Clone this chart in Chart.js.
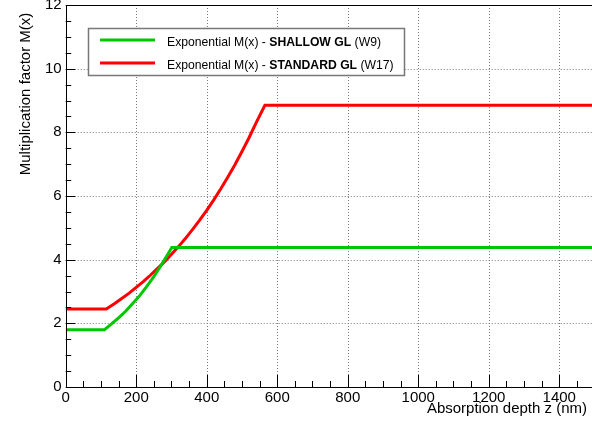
<!DOCTYPE html>
<html>
<head>
<meta charset="utf-8">
<script src="https://cdn.jsdelivr.net/npm/chart.js@4/dist/chart.umd.min.js"></script>
<style>
  html, body { margin: 0; padding: 0; background: #fff; overflow: hidden; }
  #wrap { width: 597px; height: 421px; }
</style>
</head>
<body>
<div id="wrap"><canvas id="c" width="597" height="421"></canvas></div>
<script>
// ---- data ----
const shallowX = [0, 110, 130, 150, 170, 190, 210, 230, 250, 270, 290, 301, 1500];
const shallowM = [1.80, 1.80, 1.98, 2.17, 2.38, 2.62, 2.87, 3.16, 3.47, 3.81, 4.18, 4.38, 4.38];

const standardX = [0, 115, 140, 160, 180, 200, 220, 240, 260, 280, 300, 320, 340, 360, 380,
                   400, 420, 440, 460, 480, 500, 520, 540, 565, 1500];
const standardM = [2.45, 2.45, 2.63, 2.79, 2.95, 3.13, 3.31, 3.51, 3.72, 3.93, 4.17, 4.41, 4.67, 4.95, 5.24,
                   5.55, 5.88, 6.23, 6.60, 6.98, 7.40, 7.83, 8.30, 8.85, 8.85];

const legendPrefix = 'Exponential M(x) - ';
const seriesNames = ['SHALLOW GL', 'STANDARD GL'];
const seriesTags = ['(W9)', '(W17)'];
const seriesColors = ['#00c800', '#ff0000'];

const xAxisTitle = 'Absorption depth z (nm)';
const yAxisTitle = 'Multiplication factor M(x)';

const xRange = [0, 1500];
const yRange = [0, 12];
const xMajorStep = 200, xMinorStep = 50;
const yMajorStep = 2, yMinorStep = 0.5;

function toPoints(xs, ys) { return xs.map((x, i) => ({ x: x, y: ys[i] })); }

const FONT = '"Liberation Sans", Arial, Helvetica, sans-serif';

const gridPlugin = {
  id: 'dottedGrid',
  beforeDatasetsDraw(chart) {
    const ctx = chart.ctx;
    const a = chart.chartArea;
    const xs = chart.scales.x, ys = chart.scales.y;
    ctx.save();
    ctx.strokeStyle = '#7a7a7a';
    ctx.lineWidth = 1;
    ctx.setLineDash([1, 2]);
    ctx.beginPath();
    xs.ticks.forEach(t => {
      if (t.value <= xRange[0] || t.value >= xRange[1]) return;
      const px = Math.round(xs.getPixelForValue(t.value)) + 0.5;
      ctx.moveTo(px, a.top);
      ctx.lineTo(px, a.bottom);
    });
    ys.ticks.forEach(t => {
      if (t.value <= yRange[0] || t.value >= yRange[1]) return;
      const py = Math.round(ys.getPixelForValue(t.value)) + 0.5;
      ctx.moveTo(a.left, py);
      ctx.lineTo(a.right, py);
    });
    ctx.stroke();
    ctx.restore();
  }
};

const decorPlugin = {
  id: 'decor',
  afterDatasetsDraw(chart) {
    const ctx = chart.ctx;
    const a = chart.chartArea;
    const xs = chart.scales.x, ys = chart.scales.y;
    ctx.save();
    ctx.setLineDash([]);
    ctx.strokeStyle = '#000';
    ctx.lineWidth = 1;
    // frame
    ctx.beginPath();
    ctx.rect(Math.round(a.left) + 0.5, Math.round(a.top) + 0.5,
             Math.round(a.right - a.left), Math.round(a.bottom - a.top));
    ctx.stroke();
    // inward ticks x
    ctx.beginPath();
    for (let v = xRange[0]; v <= xRange[1] + 1e-9; v += xMinorStep) {
      const px = Math.round(xs.getPixelForValue(v)) + 0.5;
      const major = Math.abs(v / xMajorStep - Math.round(v / xMajorStep)) < 1e-9;
      const len = major ? 12 : 6;
      ctx.moveTo(px, a.bottom);
      ctx.lineTo(px, a.bottom - len);
    }
    // inward ticks y
    for (let v = yRange[0]; v <= yRange[1] + 1e-9; v += yMinorStep) {
      const py = Math.round(ys.getPixelForValue(v)) + 0.5;
      const major = Math.abs(v / yMajorStep - Math.round(v / yMajorStep)) < 1e-9;
      const len = major ? 9.5 : 5.5;
      ctx.moveTo(a.left, py);
      ctx.lineTo(a.left + len, py);
    }
    ctx.stroke();

    // axis titles
    ctx.fillStyle = '#000';
    ctx.font = '15px ' + FONT;
    ctx.textAlign = 'right';
    ctx.textBaseline = 'alphabetic';
    ctx.fillText(xAxisTitle, 587, 413);
    ctx.save();
    ctx.translate(29.5, 12.7);
    ctx.rotate(-Math.PI / 2);
    ctx.textAlign = 'right';
    ctx.fillText(yAxisTitle, 0, 0);
    ctx.restore();

    // legend
    const bx = 88, by = 28, bw = 316, bh = 47;
    ctx.fillStyle = '#fff';
    ctx.fillRect(bx, by, bw, bh);
    ctx.strokeStyle = '#777';
    ctx.lineWidth = 1.5;
    ctx.strokeRect(bx + 0.5, by + 0.5, bw, bh);
    const rowLineY = [40, 63];
    const rowTextY = [46, 68.5];
    chart.data.datasets.forEach((ds, i) => {
      ctx.strokeStyle = ds.borderColor;
      ctx.lineWidth = 3;
      ctx.beginPath();
      ctx.moveTo(100, rowLineY[i]);
      ctx.lineTo(155, rowLineY[i]);
      ctx.stroke();
      ctx.fillStyle = '#000';
      ctx.textAlign = 'left';
      let tx = 167;
      ctx.font = '12.2px ' + FONT;
      ctx.fillText(legendPrefix, tx, rowTextY[i]);
      tx += ctx.measureText(legendPrefix).width;
      ctx.font = 'bold 12.2px ' + FONT;
      ctx.fillText(seriesNames[i], tx, rowTextY[i]);
      tx += ctx.measureText(seriesNames[i]).width;
      ctx.font = '12.2px ' + FONT;
      ctx.fillText(' ' + seriesTags[i], tx, rowTextY[i]);
    });
    ctx.restore();
  }
};

new Chart(document.getElementById('c'), {
  type: 'line',
  data: {
    datasets: [
      {
        label: legendPrefix + seriesNames[0] + ' ' + seriesTags[0],
        data: toPoints(shallowX, shallowM),
        borderColor: seriesColors[0],
        borderWidth: 3,
        pointRadius: 0,
        fill: false,
        tension: 0
      },
      {
        label: legendPrefix + seriesNames[1] + ' ' + seriesTags[1],
        data: toPoints(standardX, standardM),
        borderColor: seriesColors[1],
        borderWidth: 3,
        pointRadius: 0,
        fill: false,
        tension: 0
      }
    ]
  },
  options: {
    responsive: false,
    animation: false,
    events: [],
    layout: { padding: { left: 0, top: 5, right: 2.5, bottom: 0 } },
    plugins: { legend: { display: false }, tooltip: { enabled: false } },
    scales: {
      x: {
        type: 'linear',
        min: xRange[0], max: xRange[1],
        afterFit(scale) { scale.height = 34; scale.paddingLeft = 0; scale.paddingRight = 0; },
        border: { display: false },
        grid: { display: false, drawTicks: false },
        ticks: {
          stepSize: xMajorStep, includeBounds: false, autoSkip: false,
          maxRotation: 0, padding: 2,
          callback: (v) => String(v),
          color: '#000', font: { family: FONT, size: 15 }
        }
      },
      y: {
        type: 'linear',
        min: yRange[0], max: yRange[1],
        afterFit(scale) { scale.width = 65.7; scale.paddingTop = 0; scale.paddingBottom = 0; },
        border: { display: false },
        grid: { display: false, drawTicks: false },
        ticks: {
          stepSize: yMajorStep, autoSkip: false, padding: 4,
          callback: (v) => String(v),
          color: '#000', font: { family: FONT, size: 15 }
        }
      }
    }
  },
  plugins: [gridPlugin, decorPlugin]
});
</script>
</body>
</html>
